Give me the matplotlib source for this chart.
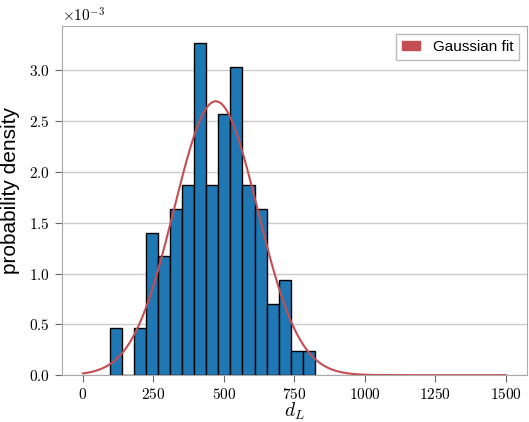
import matplotlib
matplotlib.use("Agg")
import matplotlib.pyplot as plt
import numpy as np
from matplotlib.patches import Patch

# histogram of d_L (bin edges + counts)
bin_start = 95.0
bin_width = 42.8
counts = [2, 0, 2, 6, 5, 7, 8, 14, 8, 11, 13, 8, 7, 3, 4, 1, 1]

# gaussian fit
mu = 471.0
sigma = 148.0
x_fit = np.linspace(0, 1500, 500)

plt.rcParams['mathtext.fontset'] = 'cm'
plt.rcParams['font.family'] = 'serif'
plt.rcParams['font.serif'] = ['cmr10', 'DejaVu Serif']
plt.rcParams['axes.formatter.use_mathtext'] = True

edges = bin_start + bin_width * np.arange(len(counts) + 1)
centers = (edges[:-1] + edges[1:]) / 2

fig = plt.figure(figsize=(5.29, 4.22), dpi=100)
ax = fig.add_axes([0.117, 0.111, 0.879, 0.827])

ax.hist(centers, bins=edges, weights=counts, density=True,
        color='#1f77b4', edgecolor='black', linewidth=1.0, zorder=2)
pdf = np.exp(-(x_fit - mu) ** 2 / (2 * sigma ** 2)) / (sigma * np.sqrt(2 * np.pi))
ax.plot(x_fit, pdf, color='#c44e52', linewidth=1.5, zorder=3)

ax.set_xticks([0, 250, 500, 750, 1000, 1250, 1500])
ax.ticklabel_format(axis='y', style='sci', scilimits=(0, 0))
ax.yaxis.grid(True, color='#cccccc', linewidth=1.0, zorder=0)
ax.set_axisbelow(True)
for s in ax.spines.values():
    s.set_color('#aaaaaa')
ax.tick_params(colors='#666666', labelcolor='black', labelsize=11, length=5)
ax.yaxis.get_offset_text().set_fontsize(11)

ax.set_xlabel('$d_L$', fontsize=14)
ax.xaxis.set_label_coords(0.5, -0.072)
ax.set_ylabel('probability density', fontsize=15, family='Liberation Sans')
ax.yaxis.set_label_coords(-0.09, 0.53)

leg = ax.legend(handles=[Patch(color='#c44e52', label='Gaussian fit')],
                loc='upper right', fancybox=False, edgecolor='#aaaaaa',
                prop={'family': 'Liberation Sans', 'size': 11},
                handlelength=1.2, handleheight=0.5)
leg.get_frame().set_linewidth(1.0)

fig.savefig('out.png', dpi=100)
